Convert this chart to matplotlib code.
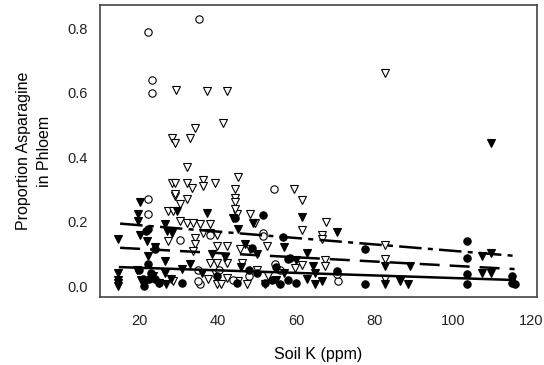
import numpy as np
import matplotlib
matplotlib.use("Agg")
import matplotlib.pyplot as plt

plt.rcParams['font.family'] = ['Liberation Sans', 'DejaVu Sans']

# open circles
oc_x = [22.3, 35.3, 23.3, 23.3, 54.4, 22.3, 22.3, 51.6, 35.5, 70.6, 30.5, 38.0, 35.0, 35.0,
        54.6, 70.4, 51.6, 44.0, 48.0, 56.0, 40.5]
oc_y = [0.79, 0.83, 0.64, 0.60, 0.30, 0.27, 0.225, 0.165, 0.006, 0.015, 0.144, 0.16, 0.016, 0.05,
        0.07, 0.037, 0.155, 0.02, 0.03, 0.05, 0.05]

# open triangles
ot_x = [29.4, 37.3, 42.4, 41.4, 34.3, 33.0, 28.4, 29.2, 82.6, 32.2, 28.4, 29.2, 32.2, 33.5,
        36.3, 36.3, 39.4, 45.2, 44.5, 44.5, 29.2, 32.2, 59.5, 61.5, 61.5, 67.6, 66.6, 66.6,
        82.6, 82.6, 82.6, 59.7, 61.5, 67.3, 67.3, 29.2, 30.5, 27.4, 28.7, 30.5, 32.2, 33.8,
        35.5, 27.4, 34.3, 34.3, 33.8, 28.7, 44.5, 38.0, 36.3, 38.0, 39.9, 45.0, 48.3, 49.5,
        39.9, 42.4, 45.7, 48.3, 52.6, 38.0, 39.9, 42.4, 46.2, 39.4, 42.4, 45.2, 37.6, 39.9,
        44.5, 50.0, 53.0, 47.5, 41.0]
ot_y = [0.61, 0.606, 0.606, 0.506, 0.49, 0.46, 0.46, 0.444, 0.66, 0.37, 0.32, 0.32, 0.32, 0.306,
        0.328, 0.31, 0.32, 0.34, 0.30, 0.275, 0.28, 0.27, 0.30, 0.266, 0.175, 0.20, 0.16, 0.147,
        0.128, 0.085, 0.022, 0.056, 0.066, 0.08, 0.0625, 0.287, 0.256, 0.234, 0.234, 0.203, 0.197, 0.197,
        0.194, 0.14, 0.15, 0.131, 0.11, 0.016, 0.26, 0.194, 0.166, 0.166, 0.16, 0.225, 0.225, 0.197,
        0.125, 0.125, 0.116, 0.116, 0.125, 0.072, 0.072, 0.072, 0.072, 0.04, 0.025, 0.016, 0.022, 0.006,
        0.24, 0.05, 0.03, 0.006, 0.006]

# filled triangles
ft_x = [14.7, 14.7, 14.7, 14.7, 14.7, 20.3, 19.8, 19.8, 22.0, 22.3, 26.6, 27.1, 28.5, 26.6,
        31.0, 26.6, 28.2, 29.7, 37.3, 45.2, 49.0, 43.9, 61.5, 70.4, 62.8, 64.3, 64.8, 62.8,
        64.8, 66.6, 82.6, 82.6, 86.4, 89.0, 88.5, 107.5, 109.8, 107.5, 109.8, 109.8, 19.5, 20.5,
        21.5, 23.5, 25.0, 27.0, 33.0, 36.0, 38.5, 42.0, 46.0, 47.0, 50.0, 52.0, 55.0, 57.0,
        60.0, 57.0, 20.3, 24.0]
ft_y = [0.147, 0.04, 0.02, 0.01, 0.0, 0.26, 0.225, 0.203, 0.14, 0.094, 0.194, 0.172, 0.165, 0.078,
        0.053, 0.04, 0.022, 0.234, 0.228, 0.178, 0.197, 0.21, 0.216, 0.169, 0.103, 0.0625, 0.04, 0.022,
        0.006, 0.016, 0.0625, 0.006, 0.016, 0.0625, 0.006, 0.094, 0.103, 0.04, 0.04, 0.444, 0.05, 0.02,
        0.006, 0.03, 0.01, 0.006, 0.07, 0.04, 0.10, 0.09, 0.06, 0.13, 0.10, 0.006, 0.02, 0.04,
        0.08, 0.12, 0.16, 0.12]

# filled circles
fc_x = [21.8, 24.1, 22.3, 21.0, 22.5, 24.0, 21.2, 31.0, 22.3, 51.6, 56.7, 48.8, 44.5, 58.4,
        77.5, 77.5, 57.9, 70.4, 103.7, 103.7, 103.7, 103.7, 115.0, 115.0, 115.7, 20.0, 23.0, 25.0,
        40.0, 50.0, 52.0, 54.0, 56.0, 58.0, 60.0, 55.0, 45.0, 48.0]
fc_y = [0.172, 0.116, 0.069, 0.022, 0.022, 0.022, 0.0, 0.01, 0.178, 0.22, 0.153, 0.119, 0.21, 0.088,
        0.116, 0.006, 0.084, 0.047, 0.14, 0.088, 0.037, 0.006, 0.03, 0.01, 0.006, 0.05, 0.04, 0.01,
        0.03, 0.04, 0.01, 0.02, 0.006, 0.02, 0.01, 0.06, 0.01, 0.05]

# regression lines
fit_x = [15.2, 115.7]
fit_dashdot = [0.194, 0.094]
fit_dash = [0.119, 0.053]
fit_solid = [0.059, 0.019]

fig = plt.figure(figsize=(5.44, 3.65), dpi=100)
ax = fig.add_axes([0.184, 0.186, 0.803, 0.800])

ms = 5.3
ax.plot(ot_x, ot_y, 'v', ms=ms, mfc='white', mec='black', mew=0.8, ls='none', zorder=2)
ax.plot(oc_x, oc_y, 'o', ms=ms, mfc='white', mec='black', mew=0.8, ls='none', zorder=2)
ax.plot(ft_x, ft_y, 'v', ms=ms, mfc='black', mec='black', mew=0.8, ls='none', zorder=3)
ax.plot(fc_x, fc_y, 'o', ms=ms, mfc='black', mec='black', mew=0.8, ls='none', zorder=3)

ax.plot(fit_x, fit_dashdot, color='black', lw=1.8, dashes=(9, 2.5, 2, 2.5), zorder=4)
ax.plot(fit_x, fit_dash, color='black', lw=1.8, dashes=(8, 4), zorder=4)
ax.plot(fit_x, fit_solid, color='black', lw=1.8, zorder=4)

ax.set_xlim(10.1, 121.4)
ax.set_ylim(-0.034, 0.872)
ax.set_xticks([20, 40, 60, 80, 100, 120])
ax.set_yticks([0.0, 0.2, 0.4, 0.6, 0.8])
ax.set_yticklabels(['0.0', '0.2', '0.4', '0.6', '0.8'])
ax.tick_params(length=0, labelsize=10.5, pad=12, colors='#222222')
ax.tick_params(axis='y', pad=9)

for s in ax.spines.values():
    s.set_color('#444444')
    s.set_linewidth(1.2)

ax.set_xlabel('Soil K (ppm)', fontsize=11.5, labelpad=14)
ax.set_ylabel('Proportion Asparagine\nin Phloem', fontsize=11.5, labelpad=11,
              linespacing=1.5)

fig.savefig('out.png', dpi=100)
